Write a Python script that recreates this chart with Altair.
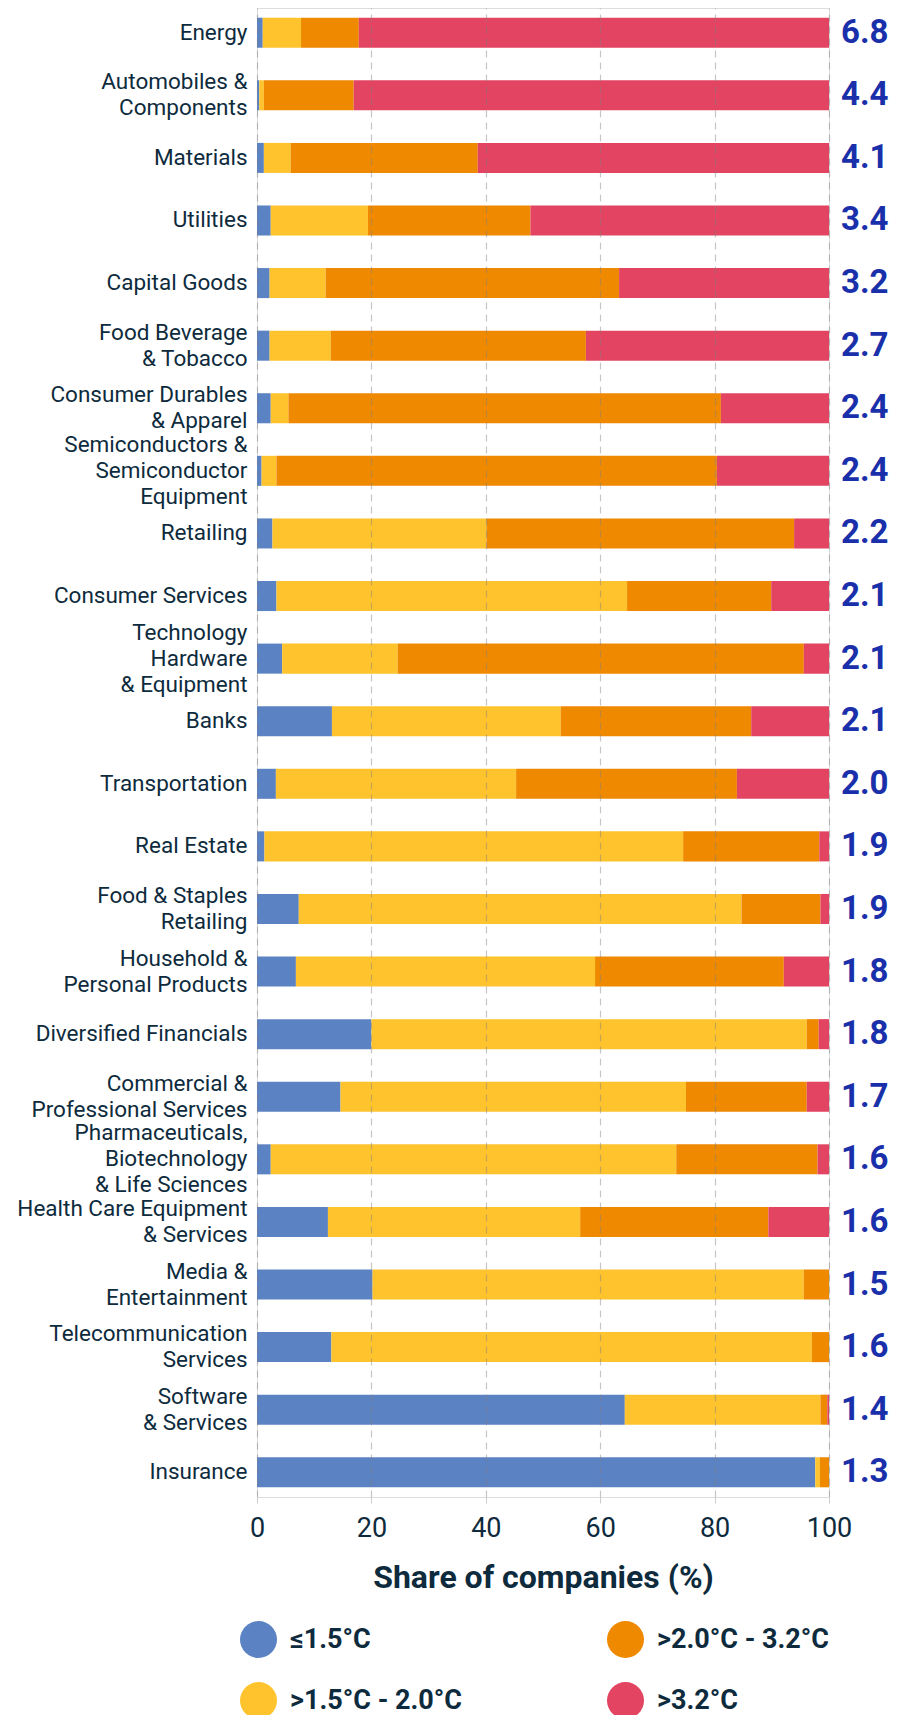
import altair as alt
import pandas as pd

categories = [
    "Energy", "Automobiles &|Components", "Materials", "Utilities", "Capital Goods",
    "Food Beverage|& Tobacco", "Consumer Durables|& Apparel",
    "Semiconductors &|Semiconductor|Equipment", "Retailing", "Consumer Services",
    "Technology|Hardware|& Equipment", "Banks", "Transportation", "Real Estate",
    "Food & Staples|Retailing", "Household &|Personal Products", "Diversified Financials",
    "Commercial &|Professional Services", "Pharmaceuticals,|Biotechnology|& Life Sciences",
    "Health Care Equipment|& Services", "Media &|Entertainment", "Telecommunication|Services",
    "Software|& Services", "Insurance",
]
scores = [6.8, 4.4, 4.1, 3.4, 3.2, 2.7, 2.4, 2.4, 2.2, 2.1, 2.1, 2.1, 2.0, 1.9, 1.9,
          1.8, 1.8, 1.7, 1.6, 1.6, 1.5, 1.6, 1.4, 1.3]

band_names = ["≤1.5°C", ">1.5°C - 2.0°C", ">2.0°C - 3.2°C", ">3.2°C"]
band_colors = ["#5b82c2", "#fec32d", "#ee8900", "#e24462"]

share_le15 = [1.0, 0.4, 1.2, 2.4, 2.2, 2.2, 2.4, 0.8, 2.7, 3.4, 4.4, 13.1, 3.3, 1.3,
              7.3, 6.8, 20.0, 14.6, 2.4, 12.4, 20.2, 13.0, 64.3, 97.6]
share_15_20 = [6.7, 0.8, 4.7, 17.0, 9.8, 10.7, 3.1, 2.6, 37.4, 61.3, 20.2, 40.0, 42.0, 73.2,
               77.4, 52.3, 76.1, 60.4, 70.9, 44.1, 75.4, 84.0, 34.2, 0.8]
share_20_32 = [10.1, 15.7, 32.7, 28.4, 51.3, 44.6, 75.6, 77.0, 53.8, 25.2, 71.0, 33.3, 38.6, 23.8,
               13.8, 33.0, 2.1, 21.1, 24.7, 32.9, 4.4, 3.0, 1.2, 1.6]
share_gt32 = [82.2, 83.1, 61.4, 52.2, 36.7, 42.5, 18.9, 19.6, 6.1, 10.1, 4.4, 13.6, 16.1, 1.7,
              1.5, 7.9, 1.8, 3.9, 2.0, 10.6, 0.0, 0.0, 0.3, 0.0]

series = [share_le15, share_15_20, share_20_32, share_gt32]
rows = []
for i, cat in enumerate(categories):
    for j, name in enumerate(band_names):
        rows.append({"category": cat, "band": name, "order": j, "share": series[j][i]})
df = pd.DataFrame(rows)
score_df = pd.DataFrame({"category": categories, "score": [f"{s:.1f}" for s in scores]})

text_color = "#0e2b3d"
FONT = "Roboto"
LINE_H = 26

label_offset = {
    "condition": [
        {"test": "length(split(datum.value, '|')) == 3", "value": -LINE_H},
        {"test": "length(split(datum.value, '|')) == 2", "value": -LINE_H / 2},
    ],
    "value": 0,
}

y_enc = alt.Y(
    "category:N", sort=categories,
    scale=alt.Scale(paddingInner=0.52, paddingOuter=0.155),
    axis=alt.Axis(title=None, labelExpr="split(datum.label, '|')", labelFontSize=22.5,
                  labelColor=text_color, labelPadding=10, ticks=False, domain=False,
                  labelLineHeight=LINE_H, labelLimit=400, labelFont=FONT,
                  labelOffset=label_offset),
)

bars = alt.Chart(df).mark_bar().encode(
    x=alt.X("share:Q", stack="zero", scale=alt.Scale(domain=[0, 100], nice=False),
            axis=alt.Axis(values=[0, 20, 40, 60, 80, 100], title="Share of companies (%)",
                          grid=True, gridDash=[7, 5], gridColor="#808080", gridOpacity=0.45,
                          gridWidth=1.2, zindex=1, domain=False, ticks=True, tickSize=6,
                          tickColor="#cccccc", labelFontSize=27, labelColor=text_color,
                          labelPadding=12, labelFont=FONT, labelFlush=False,
                          titleFont=FONT, titleFontSize=32, titleFontWeight="bold",
                          titleColor=text_color, titlePadding=21)),
    y=y_enc,
    color=alt.Color("band:N", scale=alt.Scale(domain=band_names, range=band_colors),
                    legend=alt.Legend(title=None, orient="none", legendX=-17, legendY=1613,
                                      columns=2, symbolType="circle", symbolSize=1369,
                                      labelFontSize=27, labelFontWeight="bold",
                                      labelColor=text_color, labelFont=FONT,
                                      columnPadding=145, rowPadding=24, labelOffset=13,
                                      symbolStrokeWidth=0, symbolOpacity=1, padding=0,
                                      labelLimit=400)),
    order=alt.Order("order:Q"),
)

values = alt.Chart(score_df).mark_text(
    align="left", baseline="middle", dx=12, fontSize=33, fontWeight="bold",
    color="#1a2faa", font=FONT,
).encode(
    x=alt.datum(100),
    y=alt.Y("category:N", sort=categories),
    text="score:N",
)

chart = alt.layer(bars, values).properties(
    width=572, height=1489,
    padding={"top": 0, "left": 8, "right": 5, "bottom": 5},
).configure_view(stroke=None).configure(font=FONT)

chart.save("out.html", embed_options={"renderer": "svg", "actions": False})
